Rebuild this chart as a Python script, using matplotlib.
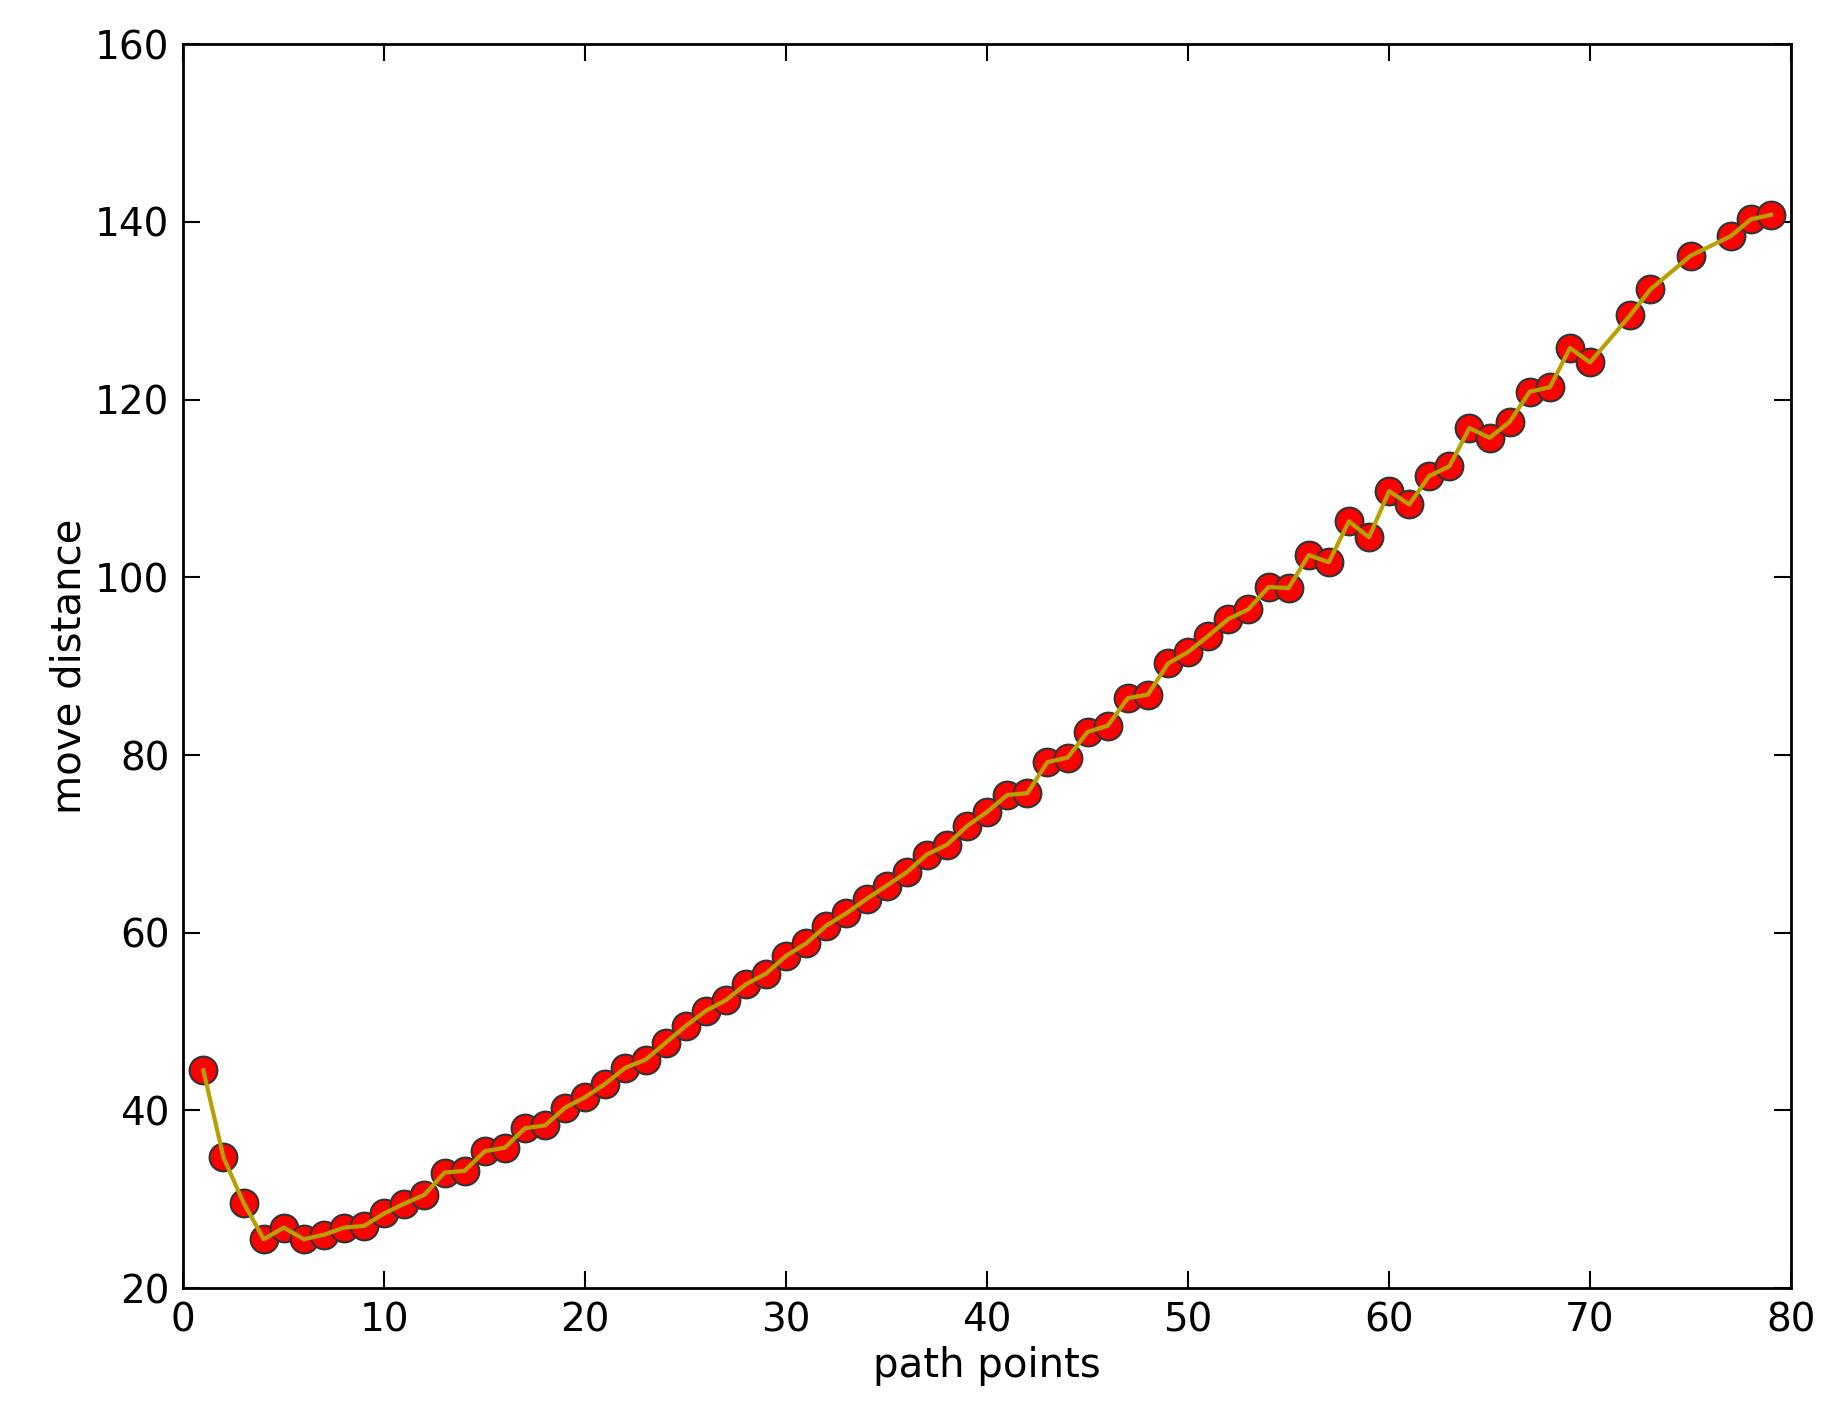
import matplotlib
matplotlib.use("Agg")
import matplotlib.pyplot as plt

x = [1,2,3,4,5,6,7,8,9,10,11,12,13,14,15,16,17,18,19,20,21,22,23,24,25,26,27,28,29,30,
     31,32,33,34,35,36,37,38,39,40,41,42,43,44,45,46,47,48,49,50,51,52,53,54,55,56,57,58,59,60,
     61,62,63,64,65,66,67,68,69,70,72,73,75,77,78,79]
y = [44.5,34.7,29.6,25.5,26.8,25.5,26.0,26.8,27.0,28.4,29.5,30.5,33.0,33.2,35.4,35.8,38.0,38.3,40.3,41.5,
     43.0,44.8,45.7,47.6,49.5,51.2,52.4,54.2,55.4,57.4,58.8,60.8,62.2,63.8,65.3,66.8,68.8,69.9,72.0,73.6,
     75.5,75.7,79.2,79.7,82.6,83.3,86.4,86.8,90.3,91.6,93.4,95.3,96.4,98.9,98.8,102.5,101.7,106.3,104.5,109.7,
     108.2,111.4,112.5,116.8,115.7,117.5,120.9,121.4,125.8,124.2,129.5,132.4,136.2,138.4,140.3,140.8]

fig = plt.figure(figsize=(18.22, 14.28), dpi=100)
ax = fig.add_axes([0.1006, 0.098, 0.8824, 0.871])
ax.plot(x, y, 'o', color='red', markeredgecolor='#333333', markeredgewidth=1.5, markersize=20, zorder=2)
ax.plot(x, y, '-', color='#b8a000', linewidth=3, zorder=3)
ax.set_xlim(0, 80)
ax.set_ylim(20, 160)
ax.set_xticks(range(0, 81, 10))
ax.set_yticks(range(20, 161, 20))
ax.tick_params(direction='in', top=True, right=True, length=12, width=1.5, labelsize=28, pad=10)
for s in ax.spines.values():
    s.set_linewidth(2)
ax.set_xlabel('path points', fontsize=29)
ax.set_ylabel('move distance', fontsize=29)
fig.savefig('out.png', dpi=100)
